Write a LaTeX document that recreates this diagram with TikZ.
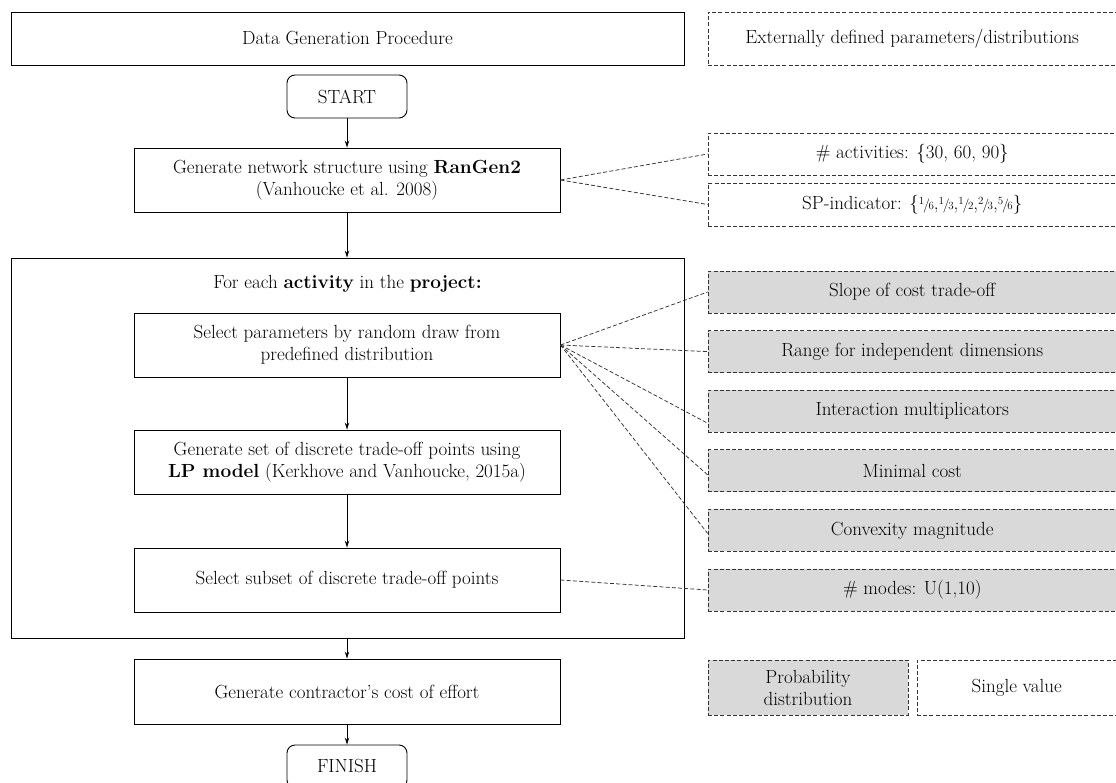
\documentclass[tikz,border=0pt]{standalone}
\usepackage{fontspec}
\usetikzlibrary{arrows.meta}

% small stacked-style fractions for the SP-indicator values
\newcommand{\smallfrac}[2]{\raisebox{0.62ex}{\fontsize{11}{11}\selectfont #1}\kern-0.06em{\fontsize{14}{14}\selectfont /}\kern-0.08em\raisebox{-0.05ex}{\fontsize{11}{11}\selectfont #2}}

\definecolor{boxgray}{HTML}{D9D9D9}
\definecolor{linegray}{HTML}{333333}

\tikzset{
  x=1pt, y=-1pt,
  txt/.style={font=\fontsize{19}{22}\selectfont, align=center, inner sep=0pt},
  solidbox/.style={txt, draw=black, line width=0.9pt, rectangle},
  termbox/.style={solidbox, rounded corners=8pt},
  extbox/.style={txt, draw=linegray, line width=0.8pt, dash pattern=on 4pt off 2.2pt},
  graybox/.style={extbox, fill=boxgray},
  flow/.style={draw=black, line width=0.9pt, -{Stealth[length=7pt,width=4.5pt]}},
  link/.style={draw=linegray, line width=0.75pt, dash pattern=on 4pt off 2.2pt}
}

\begin{document}
\begin{tikzpicture}
\useasboundingbox (0,0) rectangle (1116,783);

% header row
\node[solidbox, minimum width=673pt, minimum height=53pt] (head) at (347.5,38.5) {Data Generation Procedure};
\node[extbox, minimum width=408.5pt, minimum height=53pt] (exthead) at (912.25,38.5) {Externally defined parameters/distributions};

% main flow
\node[termbox, minimum width=120pt, minimum height=43pt] (start) at (347,96.5) {START};
\node[solidbox, minimum width=426pt, minimum height=64pt] (rangen) at (347,180) {Generate network structure using \textbf{RanGen2}\\(Vanhoucke et al. 2008)};

\node[solidbox, minimum width=673pt, minimum height=380pt] (loop) at (347.5,448) {};
\node[txt] (looptitle) at (347.5,284) {For each \textbf{activity} in the \textbf{project:}};

\node[solidbox, minimum width=426pt, minimum height=64pt] (select) at (347,345) {Select parameters by random draw from\\predefined distribution};
\node[solidbox, minimum width=426pt, minimum height=64pt] (lp) at (347,462) {Generate set of discrete trade-off points using\\\textbf{LP model} (Kerkhove and Vanhoucke, 2015a)};
\node[solidbox, minimum width=426pt, minimum height=64pt] (subset) at (347,580) {Select subset of discrete trade-off points};

\node[solidbox, minimum width=426pt, minimum height=65pt] (effort) at (347,691.5) {Generate contractor’s cost of effort};
\node[termbox, minimum width=120pt, minimum height=43pt] (finish) at (347,766.5) {FINISH};

% externally defined values
\node[extbox, minimum width=408.5pt, minimum height=42pt] (nact) at (912.25,154) {\# activities: \{30, 60, 90\}};
\node[extbox, minimum width=408.5pt, minimum height=43pt] (spind) at (912.25,204.5) {SP-indicator: \{\smallfrac{1}{6},\smallfrac{1}{3},\smallfrac{1}{2},\smallfrac{2}{3},\smallfrac{5}{6}\}};

\node[graybox, minimum width=408.5pt, minimum height=42pt] (slope) at (912.25,292) {Slope of cost trade-off};
\node[graybox, minimum width=408.5pt, minimum height=42pt] (range) at (912.25,351.6) {Range for independent dimensions};
\node[graybox, minimum width=408.5pt, minimum height=42pt] (inter) at (912.25,411.2) {Interaction multiplicators};
\node[graybox, minimum width=408.5pt, minimum height=42pt] (mincost) at (912.25,470.8) {Minimal cost};
\node[graybox, minimum width=408.5pt, minimum height=42pt] (convex) at (912.25,530.4) {Convexity magnitude};
\node[graybox, minimum width=408.5pt, minimum height=42pt] (modes) at (912.25,590) {\# modes: U(1,10)};

% legend
\node[graybox, minimum width=200pt, minimum height=55pt] (legprob) at (808,687.5) {Probability\\distribution};
\node[extbox, minimum width=199.5pt, minimum height=55pt] (legsingle) at (1016.75,687.5) {Single value};

% arrows of the procedure
\draw[flow] (start.south) -- (rangen.north);
\draw[flow] (rangen.south) -- (rangen.south |- loop.north);
\draw[flow] (select.south) -- (lp.north);
\draw[flow] (lp.south) -- (subset.north);
\draw[flow] (effort.north |- loop.south) -- (effort.north);
\draw[flow] (effort.south) -- (finish.north);

% links to the parameters
\draw[link] (rangen.east) -- (nact.west);
\draw[link] (rangen.east) -- (spind.west);
\draw[link] (select.east) -- (slope.west);
\draw[link] (select.east) -- (range.west);
\draw[link] (select.east) -- ([yshift=-12pt]inter.west);
\draw[link] (select.east) -- ([yshift=-4pt]mincost.west);
\draw[link] (select.east) -- ([yshift=-3pt]convex.west);
\draw[link] (subset.east) -- (modes.west);
\end{tikzpicture}
\end{document}
